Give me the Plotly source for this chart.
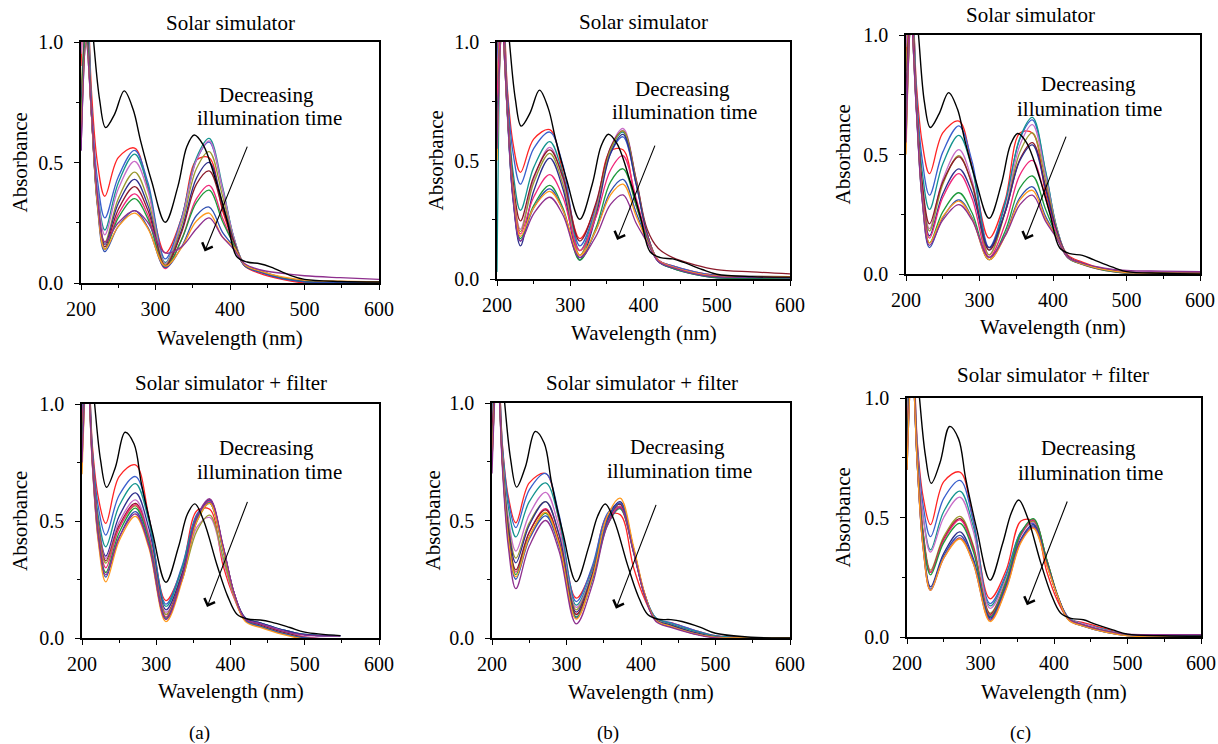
import plotly.graph_objects as go

FONT = "Liberation Serif, Times New Roman, DejaVu Serif, serif"
W, H = 1218, 744

# Wavelength grids (nm)
WL = [200, 207, 214, 222, 232, 250, 272, 290, 313, 335, 355, 372, 390, 405, 420, 440, 470, 500, 548, 600]
WL_BLACK = [200, 210, 217, 225, 233, 245, 258, 270, 280, 295, 313, 330, 342, 352, 364, 382, 396, 409, 423, 440, 455, 480, 500, 548, 600]

COLORS = {
    "black": "#000000", "red": "#FF2424", "blue": "#3A5FCD", "teal": "#14948F",
    "violet": "#C86DC8", "olive": "#9A9A32", "navy": "#2E2E8C", "maroon": "#8B1A2A",
    "pink": "#F0287A", "green": "#1E9A3C", "blue2": "#3050B0", "orange": "#FF9A1E",
    "purple": "#8E2F8E",
}

# ---- (a) Solar simulator ----
BLACK_A_TOP = [1.6, 1.25, 1.0, 0.76, 0.645, 0.70, 0.797, 0.72, 0.59, 0.42, 0.252, 0.40, 0.565, 0.614, 0.573, 0.415, 0.26, 0.11, 0.087, 0.08, 0.066, 0.033, 0.015, 0.006, 0.004]
SPECTRA_A_TOP = {
    "red":    [0.90, 1.30, 0.80, 0.50, 0.36, 0.52, 0.56, 0.39, 0.125, 0.27, 0.51, 0.52, 0.30, 0.17, 0.07, 0.04, 0.015, 0.0, -0.003, -0.005],
    "blue":   [1.00, 1.25, 0.74, 0.43, 0.27, 0.44, 0.55, 0.415, 0.10, 0.27, 0.51, 0.585, 0.39, 0.19, 0.075, 0.05, 0.022, 0.008, 0.003, 0.0],
    "teal":   [1.10, 1.20, 0.73, 0.39, 0.22, 0.415, 0.535, 0.40, 0.085, 0.265, 0.52, 0.60, 0.40, 0.19, 0.075, 0.05, 0.022, 0.008, 0.003, 0.0],
    "violet": [0.95, 1.15, 0.72, 0.38, 0.20, 0.39, 0.505, 0.38, 0.08, 0.26, 0.51, 0.59, 0.39, 0.19, 0.075, 0.05, 0.022, 0.008, 0.003, 0.0],
    "olive":  [0.78, 1.10, 0.71, 0.35, 0.17, 0.35, 0.46, 0.345, 0.075, 0.24, 0.475, 0.545, 0.36, 0.18, 0.075, 0.05, 0.02, 0.007, 0.003, 0.0],
    "navy":   [0.70, 1.10, 0.71, 0.345, 0.16, 0.33, 0.43, 0.32, 0.07, 0.22, 0.435, 0.50, 0.33, 0.175, 0.072, 0.048, 0.02, 0.006, 0.002, 0.0],
    "maroon": [0.60, 1.05, 0.70, 0.34, 0.15, 0.305, 0.40, 0.30, 0.07, 0.21, 0.41, 0.465, 0.31, 0.17, 0.072, 0.048, 0.02, 0.006, 0.002, 0.0],
    "pink":   [0.55, 1.05, 0.70, 0.33, 0.14, 0.285, 0.37, 0.28, 0.06, 0.18, 0.35, 0.405, 0.27, 0.16, 0.07, 0.045, 0.018, 0.005, 0.0, -0.003],
    "green":  [0.65, 1.05, 0.70, 0.33, 0.14, 0.27, 0.35, 0.265, 0.065, 0.18, 0.335, 0.385, 0.255, 0.16, 0.072, 0.048, 0.02, 0.006, 0.002, 0.0],
    "blue2":  [0.55, 1.00, 0.70, 0.32, 0.13, 0.235, 0.30, 0.23, 0.065, 0.15, 0.28, 0.315, 0.21, 0.15, 0.07, 0.045, 0.018, 0.005, 0.002, 0.0],
    "orange": [0.60, 1.00, 0.70, 0.33, 0.14, 0.235, 0.29, 0.225, 0.07, 0.147, 0.257, 0.29, 0.19, 0.15, 0.075, 0.05, 0.025, 0.012, 0.008, 0.005],
    "purple": [0.55, 1.00, 0.71, 0.36, 0.17, 0.25, 0.30, 0.25, 0.125, 0.15, 0.225, 0.27, 0.19, 0.14, 0.08, 0.055, 0.04, 0.03, 0.022, 0.015],
}

# ---- (b) Solar simulator ----
BLACK_B_TOP = [1.6, 1.25, 1.0, 0.76, 0.645, 0.70, 0.797, 0.72, 0.59, 0.42, 0.252, 0.40, 0.56, 0.611, 0.57, 0.41, 0.26, 0.115, 0.09, 0.085, 0.07, 0.04, 0.02, 0.01, 0.008]
SPECTRA_B_TOP = {
    "red":    [0.95, 1.30, 0.81, 0.57, 0.45, 0.59, 0.63, 0.45, 0.17, 0.31, 0.54, 0.545, 0.31, 0.18, 0.08, 0.055, 0.03, 0.015, 0.01, 0.008],
    "blue":   [0.90, 1.25, 0.79, 0.53, 0.40, 0.55, 0.62, 0.48, 0.14, 0.30, 0.53, 0.60, 0.40, 0.19, 0.08, 0.055, 0.03, 0.015, 0.012, 0.01],
    "teal":   [0.03, 1.15, 0.75, 0.45, 0.29, 0.47, 0.58, 0.44, 0.12, 0.295, 0.545, 0.62, 0.41, 0.19, 0.08, 0.05, 0.025, 0.01, 0.007, 0.005],
    "violet": [0.85, 1.15, 0.72, 0.38, 0.21, 0.42, 0.555, 0.42, 0.10, 0.29, 0.555, 0.635, 0.42, 0.19, 0.08, 0.05, 0.025, 0.01, 0.007, 0.005],
    "maroon": [0.75, 1.15, 0.74, 0.41, 0.245, 0.43, 0.545, 0.43, 0.16, 0.32, 0.555, 0.625, 0.42, 0.21, 0.13, 0.09, 0.06, 0.04, 0.03, 0.022],
    "olive":  [0.80, 1.15, 0.72, 0.38, 0.20, 0.405, 0.53, 0.40, 0.10, 0.28, 0.545, 0.625, 0.41, 0.19, 0.08, 0.05, 0.025, 0.012, 0.01, 0.008],
    "navy":   [0.70, 1.10, 0.70, 0.33, 0.14, 0.37, 0.51, 0.38, 0.08, 0.265, 0.53, 0.61, 0.40, 0.19, 0.075, 0.045, 0.02, 0.005, 0.002, 0.0],
    "pink":   [0.75, 1.10, 0.72, 0.37, 0.19, 0.345, 0.44, 0.345, 0.12, 0.26, 0.46, 0.52, 0.34, 0.18, 0.08, 0.05, 0.025, 0.012, 0.01, 0.008],
    "green":  [0.60, 1.05, 0.71, 0.35, 0.17, 0.31, 0.395, 0.30, 0.08, 0.215, 0.41, 0.465, 0.31, 0.17, 0.075, 0.045, 0.02, 0.006, 0.004, 0.002],
    "blue2":  [0.55, 1.05, 0.71, 0.34, 0.16, 0.30, 0.38, 0.29, 0.09, 0.205, 0.37, 0.42, 0.28, 0.165, 0.075, 0.048, 0.022, 0.01, 0.007, 0.005],
    "orange": [0.50, 1.05, 0.71, 0.36, 0.18, 0.30, 0.37, 0.29, 0.10, 0.205, 0.355, 0.40, 0.265, 0.16, 0.078, 0.05, 0.025, 0.012, 0.011, 0.01],
    "purple": [0.55, 1.05, 0.71, 0.34, 0.16, 0.275, 0.345, 0.27, 0.09, 0.18, 0.315, 0.355, 0.235, 0.155, 0.075, 0.048, 0.022, 0.01, 0.008, 0.006],
}

# ---- (c) Solar simulator ----
BLACK_C_TOP = [1.6, 1.25, 1.0, 0.72, 0.613, 0.67, 0.759, 0.69, 0.56, 0.39, 0.233, 0.38, 0.54, 0.588, 0.55, 0.40, 0.25, 0.11, 0.085, 0.078, 0.06, 0.03, 0.01, 0.003, 0.0]
SPECTRA_C_TOP = {
    "red":    [0.90, 1.30, 0.80, 0.55, 0.42, 0.59, 0.64, 0.45, 0.15, 0.31, 0.59, 0.59, 0.335, 0.18, 0.08, 0.05, 0.02, 0.005, 0.0, -0.005],
    "blue":   [1.00, 1.25, 0.77, 0.48, 0.33, 0.51, 0.62, 0.47, 0.11, 0.30, 0.565, 0.645, 0.425, 0.195, 0.075, 0.045, 0.02, 0.008, 0.005, 0.003],
    "teal":   [1.10, 1.20, 0.745, 0.43, 0.27, 0.46, 0.58, 0.44, 0.10, 0.295, 0.57, 0.655, 0.43, 0.195, 0.075, 0.045, 0.02, 0.008, 0.005, 0.003],
    "violet": [0.95, 1.15, 0.72, 0.37, 0.19, 0.395, 0.52, 0.39, 0.08, 0.27, 0.54, 0.625, 0.41, 0.19, 0.075, 0.045, 0.02, 0.01, 0.009, 0.008],
    "olive":  [0.85, 1.15, 0.71, 0.36, 0.18, 0.375, 0.495, 0.37, 0.08, 0.26, 0.51, 0.59, 0.39, 0.19, 0.072, 0.042, 0.018, 0.006, 0.004, 0.003],
    "maroon": [0.75, 1.15, 0.72, 0.385, 0.21, 0.385, 0.49, 0.375, 0.10, 0.26, 0.48, 0.55, 0.365, 0.18, 0.075, 0.045, 0.02, 0.008, 0.006, 0.005],
    "navy":   [0.70, 1.10, 0.71, 0.345, 0.16, 0.335, 0.44, 0.34, 0.11, 0.26, 0.475, 0.54, 0.355, 0.18, 0.072, 0.042, 0.018, 0.006, 0.004, 0.003],
    "pink":   [0.65, 1.10, 0.70, 0.34, 0.15, 0.32, 0.42, 0.315, 0.07, 0.21, 0.415, 0.475, 0.315, 0.17, 0.07, 0.04, 0.015, 0.003, -0.002, -0.005],
    "green":  [0.55, 1.05, 0.70, 0.32, 0.13, 0.26, 0.34, 0.255, 0.06, 0.18, 0.36, 0.41, 0.27, 0.16, 0.068, 0.04, 0.015, 0.004, 0.002, 0.0],
    "blue2":  [0.60, 1.05, 0.69, 0.31, 0.11, 0.235, 0.31, 0.235, 0.06, 0.165, 0.32, 0.365, 0.24, 0.155, 0.07, 0.042, 0.018, 0.005, 0.003, 0.002],
    "orange": [0.50, 1.05, 0.70, 0.32, 0.13, 0.24, 0.305, 0.23, 0.06, 0.16, 0.31, 0.35, 0.23, 0.155, 0.07, 0.042, 0.018, 0.006, 0.004, 0.003],
    "purple": [0.55, 1.05, 0.69, 0.31, 0.12, 0.225, 0.29, 0.225, 0.07, 0.16, 0.29, 0.33, 0.22, 0.15, 0.07, 0.045, 0.025, 0.015, 0.012, 0.01],
}

# ---- (a) Solar simulator + filter ----
BLACK_A_BOT = [1.6, 1.25, 1.0, 0.76, 0.644, 0.73, 0.879, 0.83, 0.66, 0.45, 0.238, 0.39, 0.53, 0.573, 0.50, 0.31, 0.18, 0.10, 0.081, 0.077, 0.068, 0.045, 0.025, 0.01, None]
SPECTRA_A_BOT = {
    "red":    [0.95, 1.30, 0.82, 0.60, 0.49, 0.69, 0.74, 0.52, 0.16, 0.30, 0.545, 0.55, 0.31, 0.17, 0.075, 0.06, 0.03, 0.005, -0.008, -0.01],
    "blue":   [0.95, 1.25, 0.80, 0.56, 0.44, 0.61, 0.69, 0.515, 0.145, 0.31, 0.53, 0.575, 0.37, 0.185, 0.085, 0.065, 0.035, 0.015, 0.01, None],
    "teal":   [1.00, 1.25, 0.79, 0.52, 0.39, 0.565, 0.66, 0.50, 0.135, 0.30, 0.525, 0.58, 0.38, 0.185, 0.085, 0.065, 0.035, 0.015, 0.01, None],
    "navy":   [0.90, 1.20, 0.77, 0.49, 0.35, 0.52, 0.62, 0.47, 0.12, 0.28, 0.515, 0.585, 0.385, 0.19, 0.085, 0.065, 0.035, 0.015, 0.01, None],
    "violet": [0.90, 1.20, 0.77, 0.485, 0.34, 0.495, 0.59, 0.445, 0.11, 0.25, 0.475, 0.515, 0.33, 0.175, 0.08, 0.06, 0.03, 0.005, -0.005, -0.01],
    "maroon": [0.85, 1.20, 0.765, 0.48, 0.33, 0.48, 0.575, 0.43, 0.10, 0.27, 0.515, 0.59, 0.39, 0.19, 0.08, 0.055, 0.025, 0.003, -0.008, -0.012],
    "olive":  [0.80, 1.20, 0.76, 0.47, 0.32, 0.47, 0.565, 0.425, 0.10, 0.25, 0.46, 0.525, 0.345, 0.18, 0.075, 0.05, 0.02, 0.0, -0.01, -0.015],
    "pink":   [0.85, 1.20, 0.755, 0.455, 0.30, 0.47, 0.57, 0.425, 0.09, 0.26, 0.51, 0.585, 0.385, 0.19, 0.075, 0.05, 0.02, 0.0, -0.01, -0.012],
    "green":  [0.80, 1.20, 0.75, 0.44, 0.28, 0.45, 0.555, 0.415, 0.085, 0.255, 0.50, 0.575, 0.38, 0.185, 0.075, 0.05, 0.02, 0.0, -0.01, -0.015],
    "blue2":  [0.75, 1.15, 0.74, 0.42, 0.26, 0.43, 0.54, 0.40, 0.08, 0.26, 0.515, 0.59, 0.39, 0.19, 0.075, 0.05, 0.02, 0.0, -0.01, -0.012],
    "orange": [0.70, 1.15, 0.735, 0.41, 0.24, 0.415, 0.52, 0.385, 0.07, 0.245, 0.50, 0.575, 0.38, 0.185, 0.07, 0.045, 0.015, -0.005, -0.015, -0.02],
    "purple": [0.75, 1.15, 0.745, 0.43, 0.27, 0.43, 0.53, 0.395, 0.08, 0.26, 0.52, 0.595, 0.395, 0.19, 0.08, 0.06, 0.03, 0.012, 0.008, None],
}

# ---- (b) Solar simulator + filter ----
BLACK_B_BOT = [1.6, 1.25, 1.0, 0.76, 0.642, 0.73, 0.879, 0.83, 0.66, 0.45, 0.24, 0.39, 0.52, 0.570, 0.50, 0.31, 0.18, 0.10, 0.08, 0.078, 0.07, 0.045, 0.02, 0.003, 0.0]
SPECTRA_B_BOT = {
    "red":    [0.95, 1.30, 0.82, 0.60, 0.49, 0.66, 0.70, 0.50, 0.17, 0.30, 0.52, 0.525, 0.30, 0.165, 0.08, 0.065, 0.035, 0.01, 0.0, 0.0],
    "blue":   [0.95, 1.25, 0.815, 0.585, 0.47, 0.63, 0.70, 0.525, 0.155, 0.31, 0.53, 0.57, 0.37, 0.185, 0.085, 0.065, 0.035, 0.01, 0.0, 0.0],
    "teal":   [0.95, 1.25, 0.80, 0.555, 0.43, 0.58, 0.66, 0.505, 0.14, 0.29, 0.51, 0.56, 0.37, 0.185, 0.085, 0.06, 0.03, 0.008, 0.0, 0.0],
    "violet": [0.90, 1.20, 0.78, 0.51, 0.37, 0.525, 0.62, 0.47, 0.13, 0.28, 0.49, 0.555, 0.365, 0.18, 0.08, 0.055, 0.025, 0.005, -0.003, -0.005],
    "olive":  [0.85, 1.20, 0.77, 0.485, 0.34, 0.49, 0.58, 0.44, 0.12, 0.275, 0.495, 0.56, 0.37, 0.18, 0.078, 0.055, 0.025, 0.005, -0.003, -0.005],
    "navy":   [0.85, 1.20, 0.76, 0.47, 0.32, 0.48, 0.58, 0.44, 0.11, 0.275, 0.51, 0.58, 0.38, 0.185, 0.078, 0.055, 0.025, 0.005, -0.003, -0.005],
    "pink":   [0.80, 1.20, 0.75, 0.44, 0.28, 0.45, 0.55, 0.415, 0.10, 0.26, 0.49, 0.56, 0.37, 0.18, 0.075, 0.05, 0.02, 0.003, -0.003, -0.005],
    "maroon": [0.80, 1.20, 0.75, 0.445, 0.29, 0.45, 0.545, 0.41, 0.10, 0.265, 0.50, 0.57, 0.375, 0.185, 0.075, 0.05, 0.02, 0.003, -0.003, -0.005],
    "green":  [0.75, 1.15, 0.745, 0.43, 0.27, 0.43, 0.53, 0.40, 0.09, 0.25, 0.48, 0.55, 0.365, 0.18, 0.075, 0.05, 0.02, 0.003, -0.003, -0.005],
    "blue2":  [0.75, 1.15, 0.74, 0.415, 0.25, 0.42, 0.52, 0.39, 0.085, 0.255, 0.50, 0.575, 0.38, 0.185, 0.075, 0.05, 0.02, 0.003, -0.003, -0.005],
    "orange": [0.75, 1.15, 0.74, 0.42, 0.26, 0.43, 0.535, 0.40, 0.08, 0.26, 0.52, 0.595, 0.39, 0.19, 0.075, 0.05, 0.02, 0.003, 0.0, 0.0],
    "purple": [0.70, 1.15, 0.72, 0.385, 0.21, 0.39, 0.50, 0.37, 0.06, 0.23, 0.48, 0.555, 0.365, 0.18, 0.07, 0.045, 0.018, 0.0, -0.005, -0.008],
}

# ---- (c) Solar simulator + filter ----
BLACK_C_BOT = [1.6, 1.25, 1.0, 0.76, 0.643, 0.73, 0.881, 0.83, 0.66, 0.45, 0.238, 0.39, 0.52, 0.573, 0.50, 0.31, 0.18, 0.10, 0.078, 0.072, 0.055, 0.03, 0.012, 0.005, 0.003]
SPECTRA_C_BOT = {
    "red":    [0.95, 1.30, 0.815, 0.585, 0.47, 0.65, 0.69, 0.49, 0.16, 0.28, 0.485, 0.485, 0.275, 0.15, 0.075, 0.06, 0.035, 0.01, 0.005, 0.005],
    "blue":   [0.95, 1.25, 0.80, 0.55, 0.42, 0.58, 0.655, 0.49, 0.14, 0.265, 0.44, 0.475, 0.31, 0.17, 0.08, 0.055, 0.03, 0.01, 0.005, 0.003],
    "teal":   [0.95, 1.20, 0.78, 0.505, 0.365, 0.525, 0.61, 0.465, 0.13, 0.255, 0.44, 0.48, 0.315, 0.17, 0.08, 0.055, 0.03, 0.01, 0.005, 0.003],
    "violet": [0.90, 1.20, 0.775, 0.50, 0.355, 0.50, 0.585, 0.445, 0.12, 0.245, 0.425, 0.48, 0.315, 0.17, 0.078, 0.055, 0.028, 0.01, 0.006, 0.005],
    "olive":  [0.85, 1.20, 0.75, 0.44, 0.28, 0.42, 0.505, 0.385, 0.10, 0.235, 0.43, 0.485, 0.32, 0.17, 0.075, 0.05, 0.025, 0.008, 0.005, 0.003],
    "maroon": [0.80, 1.20, 0.745, 0.43, 0.27, 0.41, 0.495, 0.375, 0.095, 0.23, 0.43, 0.49, 0.325, 0.17, 0.075, 0.05, 0.025, 0.008, 0.005, 0.003],
    "pink":   [0.80, 1.20, 0.745, 0.43, 0.27, 0.405, 0.49, 0.37, 0.09, 0.23, 0.43, 0.49, 0.325, 0.17, 0.075, 0.05, 0.025, 0.008, 0.005, 0.003],
    "green":  [0.80, 1.15, 0.74, 0.42, 0.26, 0.395, 0.475, 0.36, 0.085, 0.23, 0.435, 0.495, 0.325, 0.175, 0.075, 0.05, 0.025, 0.01, 0.008, 0.008],
    "navy":   [0.75, 1.15, 0.72, 0.385, 0.21, 0.35, 0.44, 0.33, 0.08, 0.215, 0.41, 0.47, 0.31, 0.17, 0.072, 0.045, 0.02, 0.006, 0.004, 0.003],
    "blue2":  [0.70, 1.15, 0.72, 0.375, 0.20, 0.34, 0.425, 0.32, 0.075, 0.21, 0.405, 0.465, 0.305, 0.17, 0.072, 0.045, 0.02, 0.006, 0.004, 0.003],
    "purple": [0.70, 1.15, 0.72, 0.37, 0.195, 0.33, 0.415, 0.31, 0.07, 0.205, 0.40, 0.46, 0.305, 0.17, 0.075, 0.05, 0.025, 0.012, 0.01, 0.01],
    "orange": [0.70, 1.15, 0.72, 0.37, 0.195, 0.33, 0.41, 0.31, 0.065, 0.20, 0.395, 0.455, 0.30, 0.17, 0.07, 0.045, 0.02, 0.005, 0.0, 0.0],
}

TITLE_TOP = "Solar simulator"
TITLE_BOT = "Solar simulator + filter"
X_TITLE = "Wavelength (nm)"
Y_TITLE = "Absorbance"
NOTE_LINES = ["Decreasing", "illumination time"]
X_TICKS = [200, 300, 400, 500, 600]
Y_TICKS = [0.0, 0.5, 1.0]
Y_TICK_TEXT = ["0.0", "0.5", "1.0"]

# Panel frames in page pixels: (left, right, top, bottom)
PANELS = [
    dict(spectra=SPECTRA_A_TOP, black=BLACK_A_TOP, box=(81, 379, 42, 283), title=TITLE_TOP, title_xy=(230, 23),
         xlab_y=338, ylab_x=20, note=[(449, 0.778), (452.5, 0.683)], arrow=((424, 0.572), (366, 0.131))),
    dict(spectra=SPECTRA_B_TOP, black=BLACK_B_TOP, box=(497, 790, 42, 279), title=TITLE_TOP, title_xy=(643, 22),
         xlab_y=333, ylab_x=436, note=[(453, 0.802), (456.5, 0.705)], arrow=((416.4, 0.569), (364, 0.165))),
    dict(spectra=SPECTRA_C_TOP, black=BLACK_C_TOP, box=(906, 1200, 35, 274), title=TITLE_TOP, title_xy=(1030, 15),
         xlab_y=327, ylab_x=842, note=[(448, 0.796), (450.3, 0.692)], arrow=((418.6, 0.581), (362, 0.142))),
    dict(spectra=SPECTRA_A_BOT, black=BLACK_A_BOT, box=(82, 379, 404, 638), title=TITLE_BOT, title_xy=(231, 383),
         xlab_y=691, ylab_x=20, note=[(448.3, 0.811), (452, 0.708)], arrow=((423.6, 0.588), (368.4, 0.132)),
         tag="(a)", tag_xy=(199, 733)),
    dict(spectra=SPECTRA_B_BOT, black=BLACK_B_BOT, box=(492, 790, 403, 638), title=TITLE_BOT, title_xy=(642, 383),
         xlab_y=692, ylab_x=432, note=[(449, 0.814), (452.3, 0.712)], arrow=((421, 0.573), (366.4, 0.125)),
         tag="(b)", tag_xy=(608, 733)),
    dict(spectra=SPECTRA_C_BOT, black=BLACK_C_BOT, box=(907, 1201, 398, 637), title=TITLE_BOT, title_xy=(1053, 375),
         xlab_y=692, ylab_x=842, note=[(446.9, 0.789), (450, 0.685)], arrow=((418.8, 0.573), (363.1, 0.133)),
         tag="(c)", tag_xy=(1020, 733)),
]

TEXT_SIZE = 21
TICK_SIZE = 20


def px(x):
    return x / W


def py(y):
    return 1 - y / H


fig = go.Figure()
annotations = []
layout_axes = {}

for i, p in enumerate(PANELS, start=1):
    xa, ya = f"x{i}", f"y{i}"
    left, right, top, bottom = p["box"]

    for name, vals in p["spectra"].items():
        fig.add_trace(go.Scatter(
            x=WL, y=vals, xaxis=xa, yaxis=ya, mode="lines",
            line=dict(color=COLORS[name], width=1.3, shape="spline", smoothing=1.0),
            showlegend=False, hoverinfo="skip", connectgaps=False,
        ))
    fig.add_trace(go.Scatter(
        x=WL_BLACK, y=p["black"], xaxis=xa, yaxis=ya, mode="lines",
        line=dict(color=COLORS["black"], width=1.4, shape="spline", smoothing=1.0),
        showlegend=False, hoverinfo="skip", connectgaps=False,
    ))

    tick_font = dict(family=FONT, size=TICK_SIZE, color="black")
    layout_axes[f"xaxis{i}"] = dict(
        domain=[px(left), px(right)], anchor=ya, range=[200, 600], automargin=False,
        tickvals=X_TICKS, ticks="outside", ticklen=5, tickwidth=1.2, tickcolor="black",
        showline=True, linecolor="black", linewidth=1.6, mirror=True,
        showgrid=False, zeroline=False, tickfont=tick_font, ticklabelstandoff=2,
        minor=dict(tickvals=[250, 350, 450, 550], ticks="outside", ticklen=3, tickcolor="black"),
    )
    layout_axes[f"yaxis{i}"] = dict(
        domain=[py(bottom), py(top)], anchor=xa, range=[0, 1], automargin=False,
        tickvals=Y_TICKS, ticktext=Y_TICK_TEXT, ticks="outside", ticklen=5, tickwidth=1.2,
        tickcolor="black", showline=True, linecolor="black", linewidth=1.6, mirror=True,
        showgrid=False, zeroline=False, tickfont=tick_font, ticklabelstandoff=7,
        minor=dict(tickvals=[0.25, 0.75], ticks="outside", ticklen=3, tickcolor="black"),
    )

    txt_font = dict(family=FONT, size=TEXT_SIZE, color="black")
    # panel title
    annotations.append(dict(text=p["title"], x=px(p["title_xy"][0]), y=py(p["title_xy"][1]),
                            xref="paper", yref="paper", showarrow=False, font=txt_font,
                            xanchor="center", yanchor="middle"))
    # axis titles
    annotations.append(dict(text=X_TITLE, x=px((left + right) / 2), y=py(p["xlab_y"]),
                            xref="paper", yref="paper", showarrow=False, font=txt_font,
                            xanchor="center", yanchor="middle"))
    annotations.append(dict(text=Y_TITLE, x=px(p["ylab_x"]), y=py((top + bottom) / 2),
                            xref="paper", yref="paper", showarrow=False, font=txt_font,
                            textangle=-90, xanchor="center", yanchor="middle"))
    # note text, one annotation per line to keep the tight line spacing
    for line, (nx, ny) in zip(NOTE_LINES, p["note"]):
        annotations.append(dict(text=line, x=nx, y=ny, xref=xa, yref=ya, showarrow=False,
                                font=txt_font, xanchor="center", yanchor="middle",
                                borderpad=0))
    # arrow
    (tx, ty), (hx, hy) = p["arrow"]
    annotations.append(dict(text="", x=hx, y=hy, ax=tx, ay=ty, xref=xa, yref=ya,
                            axref=xa, ayref=ya, showarrow=True, arrowhead=4,
                            arrowsize=2.0, arrowwidth=1.1, arrowcolor="black"))
    if "tag" in p:
        annotations.append(dict(text=p["tag"], x=px(p["tag_xy"][0]), y=py(p["tag_xy"][1]),
                                xref="paper", yref="paper", showarrow=False,
                                font=dict(family=FONT, size=19, color="black"),
                                xanchor="center", yanchor="middle"))

fig.update_layout(
    width=W, height=H, margin=dict(l=0, r=0, t=0, b=0, autoexpand=False),
    paper_bgcolor="white", plot_bgcolor="white",
    font=dict(family=FONT, color="black"),
    annotations=annotations, **layout_axes,
)

fig.write_html("out.html")
